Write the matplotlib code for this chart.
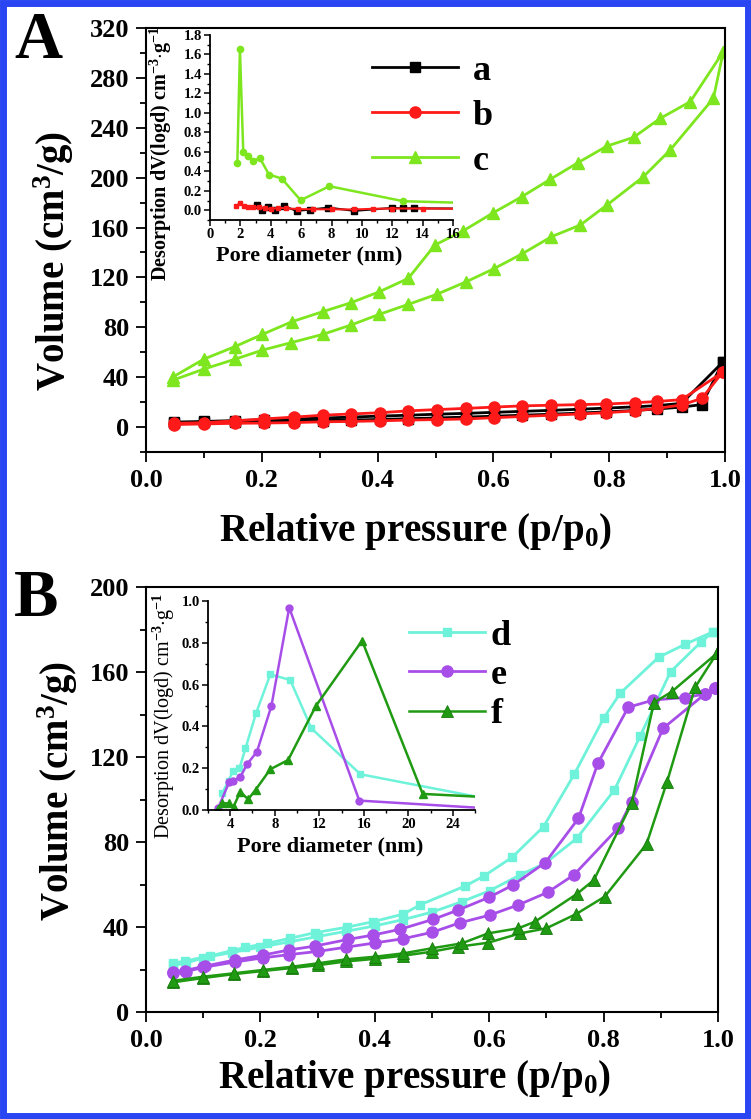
import matplotlib
matplotlib.use("Agg")
import matplotlib.pyplot as plt
from matplotlib.patches import Rectangle
from matplotlib.ticker import MultipleLocator

plt.rcParams["font.family"] = ["Liberation Serif", "DejaVu Serif"]
plt.rcParams["font.weight"] = "bold"
plt.rcParams["axes.labelweight"] = "bold"
plt.rcParams["mathtext.fontset"] = "custom"
plt.rcParams["mathtext.rm"] = "Liberation Serif:bold"
plt.rcParams["mathtext.it"] = "Liberation Serif:bold"
plt.rcParams["mathtext.bf"] = "Liberation Serif:bold"

# ---- panel A : isotherms (adsorption / desorption branches) ----
ab_ads_x = [0.048, 0.10, 0.153, 0.203, 0.256, 0.305, 0.354, 0.404, 0.453, 0.502, 0.553,
            0.601, 0.65, 0.70, 0.749, 0.795, 0.844, 0.883, 0.925, 0.96, 0.996]
ab_des_x = [0.048, 0.10, 0.153, 0.203, 0.256, 0.305, 0.354, 0.404, 0.453, 0.502, 0.553,
            0.601, 0.65, 0.70, 0.749, 0.795, 0.844, 0.883, 0.925, 0.996]
a_ads = [3.5, 3.8, 4, 4.3, 4.7, 5.1, 5.6, 6.1, 6.7, 7.3, 8, 8.7, 9.5, 10.3, 11.2, 12.2, 13.3, 14.5, 16, 18, 52]
a_des = [4, 4.5, 5.2, 5.8, 6.5, 7.2, 8, 8.8, 9.5, 10.3, 11, 11.8, 12.6, 13.4, 14.3, 15.2, 16.2, 17.2, 19, 52]
b_ads = [2, 2.5, 3, 3.2, 3.6, 4.2, 4.5, 5, 5.6, 6, 6.5, 7.5, 8.5, 9.5, 10.5, 11.5, 13, 15, 17.7, 23, 44]
b_des = [3, 3.5, 5, 6.5, 8, 9.5, 10.5, 11.5, 13, 14, 15, 16, 17, 17.5, 18, 18.5, 19.5, 20.5, 22, 44]

c_ads_x = [0.047, 0.100, 0.153, 0.201, 0.250, 0.305, 0.354, 0.403, 0.453, 0.502, 0.553,
           0.601, 0.650, 0.700, 0.750, 0.796, 0.859, 0.905, 0.980, 0.997]
c_ads = [37.7, 46.5, 54.3, 61.7, 67.6, 74.3, 81.8, 90.4, 98.4, 106.4, 116.5,
         127, 139, 152.6, 162, 178, 200.7, 222, 263.6, 301]
c_des_x = [0.047, 0.100, 0.153, 0.201, 0.252, 0.305, 0.354, 0.403, 0.453, 0.499, 0.548,
           0.600, 0.649, 0.698, 0.746, 0.796, 0.842, 0.888, 0.940, 0.997]
c_des = [40.3, 54.5, 64.4, 74.3, 84.5, 92.5, 99.7, 108.5, 119.2, 146, 157.4,
         171.9, 184.7, 198.6, 212, 225.3, 232.3, 247.5, 260.9, 301]

# ---- panel A inset : pore size distribution ----
a_psd_x = [3.07, 3.43, 3.83, 4.3, 4.9, 5.7, 6.6, 7.8, 9.5, 12.0, 12.7, 13.4, 17]
a_psd_y = [0.05, 0.0, 0.03, 0.007, 0.04, -0.006, 0.007, 0.027, -0.006, 0.024, 0.02, 0.02, 0.017]
b_psd_x = [1.7, 1.97, 2.24, 2.5, 2.8, 3.2, 3.6, 4.0, 4.5, 5.0, 5.8, 6.8, 8.0, 9.5, 10.7, 12, 14, 17]
b_psd_y = [0.045, 0.072, 0.045, 0.038, 0.03, 0.03, 0.02, 0.012, 0.025, 0.02, 0.012, 0.01, 0.01,
           0.008, 0.015, 0.018, 0.018, 0.015]
c_psd_x = [1.80, 1.97, 2.19, 2.48, 2.85, 3.29, 3.88, 4.72, 5.97, 7.86, 12.73, 17]
c_psd_y = [0.487, 1.653, 0.60, 0.559, 0.507, 0.535, 0.367, 0.326, 0.103, 0.247, 0.093, 0.075]

# ---- panel B : isotherms ----
d_ads_x = [0.048, 0.07, 0.1, 0.15, 0.2, 0.25, 0.3, 0.35, 0.4, 0.45, 0.5, 0.552, 0.601,
           0.654, 0.698, 0.753, 0.819, 0.864, 0.917, 0.971, 0.992]
d_ads = [22, 23, 25.5, 28, 30.5, 33, 35.5, 38, 40.5, 43.5, 47, 51.9, 57.1,
         64.5, 70, 81.7, 104.5, 129.9, 160.1, 174.3, 179]
d_des_x = [0.048, 0.068, 0.112, 0.15, 0.173, 0.211, 0.252, 0.295, 0.351, 0.397, 0.45, 0.479,
           0.558, 0.591, 0.64, 0.695, 0.749, 0.80, 0.829, 0.896, 0.942, 0.992]
d_des = [23, 24, 26.4, 28.9, 30.4, 32.3, 34.7, 37.3, 39.9, 42.5, 46.1, 50.4,
         59.3, 64, 72.8, 87.2, 112, 138.2, 150, 166.9, 173, 179]

e_ads_x = [0.048, 0.07, 0.1, 0.155, 0.205, 0.25, 0.3, 0.35, 0.4, 0.45, 0.5, 0.549, 0.601,
           0.651, 0.702, 0.748, 0.826, 0.849, 0.904, 0.977, 0.995]
e_ads = [18.5, 19, 21, 23.5, 25.5, 27, 28.5, 30.5, 32.5, 34.5, 37.5, 42, 45.6,
         50.4, 56.3, 64.5, 86.7, 99, 133.5, 149.6, 152.3]
e_des_x = [0.048, 0.068, 0.103, 0.156, 0.205, 0.25, 0.295, 0.354, 0.397, 0.444, 0.502, 0.546,
           0.60, 0.642, 0.698, 0.756, 0.790, 0.843, 0.887, 0.942, 0.977, 0.995]
e_des = [19, 19.5, 21.6, 24.5, 26.8, 29.2, 31, 34.2, 36.2, 38.9, 43.6, 48,
         54, 59.8, 70.3, 91.1, 117, 143.4, 146.8, 148, 149.6, 152.3]

f_ads_x = [0.048, 0.1, 0.153, 0.205, 0.255, 0.3, 0.35, 0.4, 0.45, 0.5, 0.546, 0.598,
           0.654, 0.70, 0.752, 0.802, 0.875, 0.911, 0.96, 0.998]
f_ads = [14, 16, 17.8, 19.3, 20.7, 22, 23.8, 25, 26.5, 28.4, 30.7, 32.6,
         37, 39.4, 46.1, 54.3, 79, 108.4, 152.8, 168.8]
f_des_x = [0.048, 0.1, 0.153, 0.205, 0.255, 0.3, 0.35, 0.4, 0.45, 0.5, 0.552, 0.598,
           0.651, 0.68, 0.753, 0.783, 0.849, 0.888, 0.919, 0.998]
f_des = [14.7, 16.6, 18.2, 19.8, 21.3, 22.9, 24.8, 26, 27.6, 30, 32.3, 37,
         39.4, 42.5, 55.5, 62.1, 98.2, 145.6, 150.7, 168.8]

# ---- panel B inset ----
d_psd_x = [3.3, 3.85, 4.24, 4.83, 5.37, 6.32, 7.6, 9.39, 11.29, 15.7, 26.5]
d_psd_y = [0.083, 0.14, 0.187, 0.20, 0.295, 0.463, 0.649, 0.622, 0.391, 0.171, 0.06]
e_psd_x = [2.9, 3.9, 4.24, 4.89, 5.5, 6.4, 7.7, 9.3, 15.6, 26.5]
e_psd_y = [0.008, 0.133, 0.14, 0.156, 0.218, 0.279, 0.498, 0.968, 0.045, 0.01]
f_psd_x = [2.9, 3.3, 3.85, 4.3, 4.9, 5.6, 6.27, 7.6, 9.2, 11.7, 15.85, 21.3, 26.5]
f_psd_y = [0.003, 0.032, 0.032, 0.016, 0.088, 0.051, 0.096, 0.195, 0.239, 0.498, 0.81, 0.077, 0.063]

C_A, C_B, C_C = "black", "#ff1a1a", "#7de61e"
C_D, C_E, C_F = "#6ef2da", "#a84ee8", "#1f9a12"
YLAB_PSD = "Desorption dV(logd) cm$^{-3}$$\\cdot$g$^{-1}$"


def loop(ax, xa, ya, xd, yd, **kw):
    # adsorption up, then desorption back down as one curve
    ax.plot(list(xa) + list(xd[::-1]), list(ya) + list(yd[::-1]), **kw)


def style_main(ax, ymax, ymajor, ymin):
    ax.set_xlim(0, 1.0)
    ax.set_ylim(ymin, ymax)
    ax.xaxis.set_major_locator(MultipleLocator(0.2))
    ax.xaxis.set_minor_locator(MultipleLocator(0.1))
    ax.yaxis.set_major_locator(MultipleLocator(ymajor))
    ax.yaxis.set_minor_locator(MultipleLocator(ymajor / 2))
    ax.xaxis.set_major_formatter(plt.FuncFormatter(lambda v, p: f"{v:.1f}"))
    ax.tick_params(which="major", direction="out", length=7, width=1.3, labelsize=19, pad=5)
    ax.tick_params(which="minor", direction="out", length=4, width=1.3)
    for s in ax.spines.values():
        s.set_linewidth(1.5)
    ax.set_xlabel("Relative pressure (p/p$_0$)", fontsize=28)
    ax.set_ylabel("Volume (cm$^3$/g)", fontsize=28)
    ax.yaxis.label.set_va("center")


def style_inset(ax):
    ax.spines["top"].set_visible(False)
    ax.spines["right"].set_visible(False)
    for s in ("left", "bottom"):
        ax.spines[s].set_linewidth(1.3)
    ax.patch.set_alpha(0)
    ax.tick_params(which="major", direction="out", length=4, width=1.1, labelsize=10.5, pad=2)
    ax.tick_params(which="minor", direction="out", length=2.5, width=1.0)
    ax.set_xlabel("Pore diameter (nm)", fontsize=16, labelpad=1)


fig = plt.figure(figsize=(7.51, 11.19), dpi=100)

# ---------------- panel A ----------------
axA = fig.add_axes([146 / 751, 1 - 452 / 1119, 579 / 751, 424 / 1119])
loop(axA, ab_ads_x, a_ads, ab_des_x, a_des, color=C_A, lw=2, marker="s", ms=7, label="a")
loop(axA, ab_ads_x, b_ads, ab_des_x, b_des, color=C_B, lw=2, marker="o", ms=8, label="b")
loop(axA, c_ads_x, c_ads, c_des_x, c_des, color=C_C, lw=2, marker="^", ms=8, label="c")
style_main(axA, 320, 40, -20)
axA.xaxis.set_label_coords(0.465, -0.14)
axA.yaxis.set_label_coords(-0.16, 0.45)
axA.legend(loc="upper left", bbox_to_anchor=(0.39, 0.937), frameon=False, fontsize=26,
           handlelength=2.4, handletextpad=0.4, labelspacing=0.32, borderpad=0, borderaxespad=0)

insA = fig.add_axes([210 / 751, 1 - 220 / 1119, 243 / 751, 185 / 1119])
insA.plot(a_psd_x, a_psd_y, color=C_A, lw=1.5, marker="s", ms=4)
insA.plot(b_psd_x, b_psd_y, color=C_B, lw=1.5, marker="s", ms=2.5)
insA.plot(c_psd_x, c_psd_y, color=C_C, lw=1.8, marker="o", ms=4.5)
insA.set_xlim(0, 16)
insA.set_ylim(-0.1, 1.8)
insA.xaxis.set_major_locator(MultipleLocator(2))
insA.xaxis.set_minor_locator(MultipleLocator(1))
insA.yaxis.set_major_locator(MultipleLocator(0.2))
insA.yaxis.set_minor_locator(MultipleLocator(0.1))
insA.yaxis.set_major_formatter(plt.FuncFormatter(lambda v, p: f"{v:.1f}"))
style_inset(insA)
insA.set_ylabel(YLAB_PSD, fontsize=14.5)
insA.yaxis.set_label_coords(-0.15, 0.36)
insA.xaxis.set_label_coords(0.41, -0.14)

# ---------------- panel B ----------------
axB = fig.add_axes([146 / 751, 1 - 1012 / 1119, 572 / 751, 425 / 1119])
loop(axB, d_ads_x, d_ads, d_des_x, d_des, color=C_D, lw=2, marker="s", ms=6, label="d")
loop(axB, e_ads_x, e_ads, e_des_x, e_des, color=C_E, lw=2, marker="o", ms=8, label="e")
loop(axB, f_ads_x, f_ads, f_des_x, f_des, color=C_F, lw=1.8, marker="^", ms=8,
     markeredgecolor="#167a0c", markeredgewidth=0.6, label="f")
style_main(axB, 200, 40, 0)
axB.xaxis.set_label_coords(0.47, -0.108)
axB.yaxis.set_label_coords(-0.155, 0.52)
axB.legend(loc="upper left", bbox_to_anchor=(0.46, 0.924), frameon=False, fontsize=26,
           handlelength=2.1, handletextpad=0.15, labelspacing=0.17, borderpad=0, borderaxespad=0)

insB = fig.add_axes([208 / 751, 1 - 810 / 1119, 267 / 751, 209 / 1119])
insB.plot(d_psd_x, d_psd_y, color=C_D, lw=1.8, marker="s", ms=4)
insB.plot(e_psd_x, e_psd_y, color=C_E, lw=1.8, marker="o", ms=5)
insB.plot(f_psd_x, f_psd_y, color=C_F, lw=1.8, marker="^", ms=5.5)
insB.set_xlim(2, 26)
insB.set_ylim(0, 1.0)
insB.xaxis.set_major_locator(MultipleLocator(4))
insB.xaxis.set_minor_locator(MultipleLocator(2))
insB.yaxis.set_major_locator(MultipleLocator(0.2))
insB.yaxis.set_minor_locator(MultipleLocator(0.1))
insB.yaxis.set_major_formatter(plt.FuncFormatter(lambda v, p: f"{v:.1f}"))
style_inset(insB)
insB.set_ylabel(YLAB_PSD, fontsize=14.5, fontweight="normal")
insB.yaxis.set_label_coords(-0.115, 0.45)
insB.xaxis.set_label_coords(0.457, -0.125)

# panel letters and blue frame
fig.text(38 / 751, 1 - 42 / 1119, "A", fontsize=48, ha="center", va="center")
fig.text(36 / 751, 1 - 600 / 1119, "B", fontsize=48, ha="center", va="center")
fig.patches.append(Rectangle((0.004, 0.003), 0.992, 0.994, transform=fig.transFigure,
                             fill=False, edgecolor="#2a45f2", linewidth=5))

fig.savefig("out.png", dpi=100)
